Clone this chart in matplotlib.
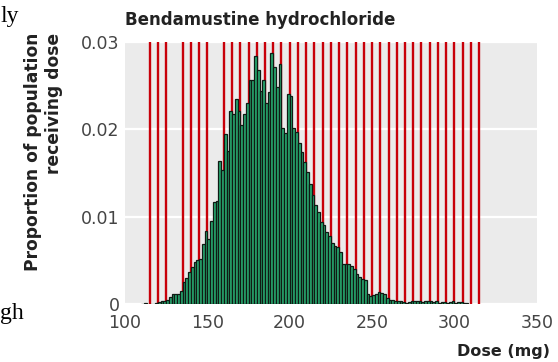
import numpy as np
import matplotlib
matplotlib.use('Agg')
import matplotlib.pyplot as plt

plt.rcParams['font.family'] = ['DejaVu Sans']

# histogram of dose received: bins of 5/3 mg starting at 110 mg
bin_start = 110
bin_width = 5 / 3
proportion = [
    0.0000, 0.0001, 0.0000, 0.0000, 0.0000, 0.0001, 0.0002, 0.0003, 0.0004, 0.0005,
    0.0008, 0.0011, 0.0012, 0.0012, 0.0015, 0.0025, 0.0030, 0.0037, 0.0043, 0.0048,
    0.0051, 0.0052, 0.0069, 0.0084, 0.0074, 0.0095, 0.0117, 0.0118, 0.0164, 0.0153,
    0.0195, 0.0175, 0.0221, 0.0218, 0.0235, 0.0221, 0.0205, 0.0218, 0.0230, 0.0257,
    0.0257, 0.0284, 0.0268, 0.0244, 0.0256, 0.0230, 0.0243, 0.0287, 0.0271, 0.0249,
    0.0275, 0.0201, 0.0196, 0.0240, 0.0238, 0.0202, 0.0197, 0.0184, 0.0174, 0.0163,
    0.0151, 0.0138, 0.0125, 0.0113, 0.0105, 0.0094, 0.0090, 0.0082, 0.0078, 0.0070,
    0.0066, 0.0065, 0.0060, 0.0046, 0.0046, 0.0046, 0.0044, 0.0040, 0.0034, 0.0031,
    0.0029, 0.0027, 0.0011, 0.0009, 0.0010, 0.0012, 0.0014, 0.0013, 0.0012, 0.0007,
    0.0005, 0.0005, 0.0004, 0.0003, 0.0003, 0.0002, 0.0001, 0.0002, 0.0003, 0.0003,
    0.0004, 0.0003, 0.0002, 0.0003, 0.0004, 0.0003, 0.0002, 0.0003, 0.0001, 0.0002,
    0.0002, 0.0001, 0.0002, 0.0003, 0.0001, 0.0002, 0.0002, 0.0001, 0.0001,
]

# dose bands (mg)
dose_bands = [115, 120, 125, 135, 140, 145, 150] + list(range(160, 320, 5))

x_ticks = [100, 150, 200, 250, 300, 350]
y_ticks = [0, 0.01, 0.02, 0.03]
y_tick_labels = ['0', '0.01', '0.02', '0.03']

left_edges = bin_start + bin_width * np.arange(len(proportion))

fig = plt.figure(figsize=(5.58, 3.62), dpi=100)
ax = fig.add_axes([0.224, 0.160, 0.738, 0.724])
ax.set_facecolor('#ebebeb')
for sp in ax.spines.values():
    sp.set_visible(False)

ax.set_xlim(100, 350)
ax.set_ylim(0, 0.03)
ax.set_yticks(y_ticks)
ax.set_yticklabels(y_tick_labels)
ax.set_xticks(x_ticks)
ax.yaxis.grid(True, color='white', lw=1.6, zorder=0)
ax.set_axisbelow(True)
ax.tick_params(length=0, labelsize=12.5, labelcolor='#444444')
ax.tick_params(axis='x', pad=7)
ax.tick_params(axis='y', pad=4)

for d in dose_bands:
    ax.axvline(d, color='#c8000a', lw=1.7, zorder=1)

ax.bar(left_edges, proportion, width=bin_width, align='edge',
       color='#28a870', edgecolor='#101a14', linewidth=0.9, zorder=2)

fig.text(0.224, 0.945, 'Bendamustine hydrochloride', fontsize=12, fontweight='bold',
         color='#222222', ha='left', va='center')
fig.text(0.078, 0.91, 'Proportion of population\nreceiving dose', rotation=90,
         fontsize=12.3, fontweight='bold', color='#222222', ha='center', va='top',
         multialignment='right', linespacing=1.15)
fig.text(0.986, 0.008, 'Dose (mg)', fontsize=11.5, fontweight='bold', color='#222222',
         ha='right', va='bottom')

# fragments of the surrounding page text
fig.text(0.0, 0.955, 'ly', family=['Liberation Serif', 'DejaVu Serif'], fontsize=17,
         ha='left', va='center')
fig.text(0.0, 0.135, 'gh', family=['Liberation Serif', 'DejaVu Serif'], fontsize=17,
         ha='left', va='center')

fig.savefig('out.png', dpi=100)
